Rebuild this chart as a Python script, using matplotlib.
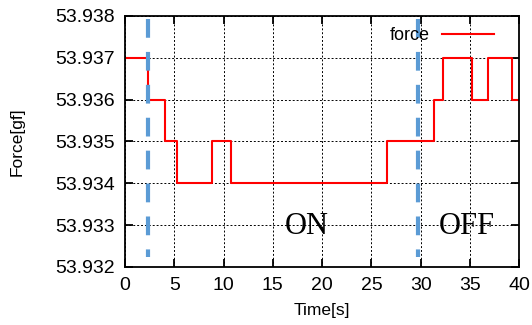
import matplotlib
matplotlib.use('Agg')
import matplotlib.pyplot as plt

plt.rcParams['font.family'] = ['Liberation Sans', 'DejaVu Sans']

# step data: time [s] where each level starts, and force level [gf]
t_steps = [0, 2.37, 4.06, 5.25, 8.8, 10.76, 26.56, 31.4, 32.3, 35.2, 36.8, 39.26, 40]
force = [53.937, 53.936, 53.935, 53.934, 53.935, 53.934, 53.935, 53.936, 53.937,
         53.936, 53.937, 53.936, 53.936]

# switch instants (dashed markers)
switch_t = [2.37, 29.7]
phase_labels = ['ON', 'OFF']
phase_x = [18.48, 34.67]

xticks = [0, 5, 10, 15, 20, 25, 30, 35, 40]
yticks = [53.932, 53.933, 53.934, 53.935, 53.936, 53.937, 53.938]

fig = plt.figure(figsize=(5.32, 3.25), dpi=100)
ax = fig.add_axes([0.235, 0.179, 0.741, 0.772])

ax.step(t_steps, force, where='post', color='red', lw=1.5, label='force')

for xs in switch_t:
    ax.plot([xs, xs], [53.93792, 53.93224], color='#5B9BD5', lw=3,
            linestyle=(0, (4.5, 3.4)), zorder=3)

for lab, xp in zip(phase_labels, phase_x):
    ax.text(xp, 53.93305, lab, family=['Liberation Serif', 'DejaVu Serif'],
            fontsize=22, ha='center', va='center_baseline')

ax.set_xlim(0, 40)
ax.set_ylim(53.932, 53.938)
ax.set_xticks(xticks)
ax.set_yticks(yticks)
ax.set_yticklabels(['%.3f' % v for v in yticks])
ax.tick_params(direction='in', length=6, width=1.3, top=True, right=True,
               labelsize=14, pad=7)
ax.grid(True, color='black', linestyle=(0, (2, 2)), lw=0.7)
for s in ax.spines.values():
    s.set_linewidth(1.3)

ax.set_xlabel('Time[s]', fontsize=12.5, labelpad=7)
ax.set_ylabel('Force[gf]', fontsize=12.5, labelpad=22)

leg = ax.legend(loc='upper right', frameon=False, markerfirst=False,
                handlelength=2.9, handletextpad=0.7, fontsize=13,
                borderaxespad=0.0, bbox_to_anchor=(0.955, 0.985))

fig.savefig('out.png', dpi=100)
